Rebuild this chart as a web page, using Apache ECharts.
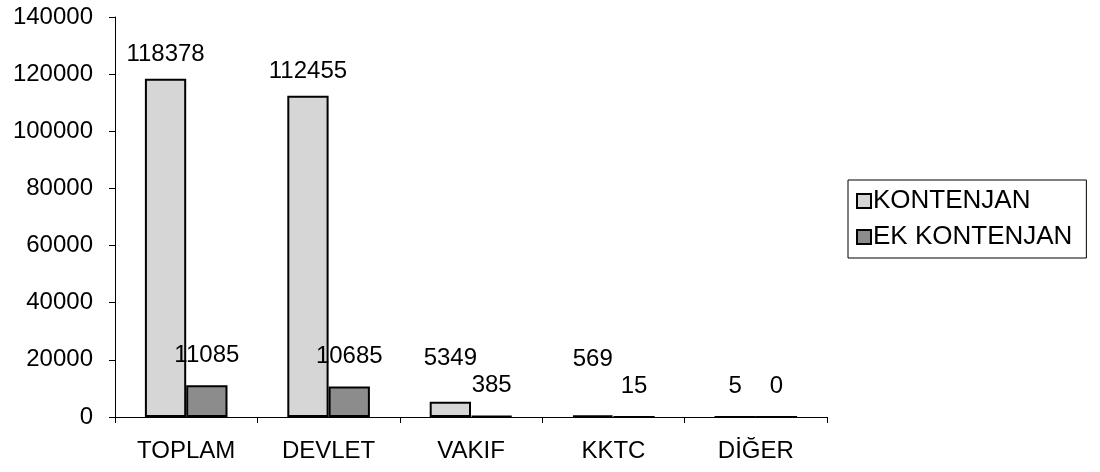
<!DOCTYPE html>
<html>
<head>
<meta charset="utf-8">
<script src="https://cdn.jsdelivr.net/npm/echarts@6/dist/echarts.min.js"></script>
<style>
html,body{margin:0;padding:0;background:#fff;}
#c{width:1100px;height:472px;}
</style>
</head>
<body>
<div id="c"></div>
<script>
const categories = ['TOPLAM', 'DEVLET', 'VAKIF', 'KKTC', 'DİĞER'];
const kontenjan = [118378, 112455, 5349, 569, 5];
const ekKontenjan = [11085, 10685, 385, 15, 0];
const seriesNames = ['KONTENJAN', 'EK KONTENJAN'];
const yMin = 0, yMax = 140000, yStep = 20000;

const FONT = '"Liberation Sans", Arial, sans-serif';
const chart = echarts.init(document.getElementById('c'), null, {renderer: 'canvas'});
const labelStyle = {
  show: true, position: 'top', distance: 12,
  color: '#000', fontFamily: FONT, fontSize: 24
};
// Excel placed a few small-bar labels higher to avoid overlap
const liftLabels = (arr, lifts) => arr.map((v, i) =>
  lifts[i] ? {value: v, label: {distance: lifts[i]}} : v);

chart.setOption({
  animation: false,
  backgroundColor: '#fff',
  textStyle: {fontFamily: FONT, color: '#000'},
  grid: {left: 115, right: 273, top: 17, bottom: 55, containLabel: false},
  legend: {
    orient: 'vertical',
    left: 848, top: 180,
    padding: [8, 14, 8, 8],
    itemGap: 10,
    icon: 'rect',
    itemWidth: 14, itemHeight: 14,
    borderColor: '#000', borderWidth: 1,
    textStyle: {fontFamily: FONT, fontSize: 26, color: '#000', padding: [0, 0, 0, -3]},
    data: seriesNames
  },
  xAxis: {
    type: 'category',
    data: categories,
    axisLine: {lineStyle: {color: '#000', width: 1}},
    axisTick: {show: true, length: 6, inside: false, lineStyle: {color: '#000'}},
    axisLabel: {color: '#000', fontFamily: FONT, fontSize: 24, margin: 22}
  },
  yAxis: {
    type: 'value',
    min: yMin, max: yMax, interval: yStep,
    axisLine: {show: true, lineStyle: {color: '#000', width: 1}},
    axisTick: {show: true, length: 6, lineStyle: {color: '#000'}},
    splitLine: {show: false},
    axisLabel: {color: '#000', fontFamily: FONT, fontSize: 24, margin: 22,
      formatter: v => String(v)}
  },
  series: [
    {
      name: seriesNames[0], type: 'bar',
      data: liftLabels(kontenjan, [0, 0, 31, 44, 18]),
      barGap: '0%', barCategoryGap: '42%',
      itemStyle: {color: '#d6d6d6', borderColor: '#000', borderWidth: 2},
      label: labelStyle
    },
    {
      name: seriesNames[1], type: 'bar', data: ekKontenjan,
      itemStyle: {color: '#8c8c8c', borderColor: '#000', borderWidth: 2},
      label: Object.assign({}, labelStyle, {distance: 18})
    }
  ]
});
</script>
</body>
</html>
